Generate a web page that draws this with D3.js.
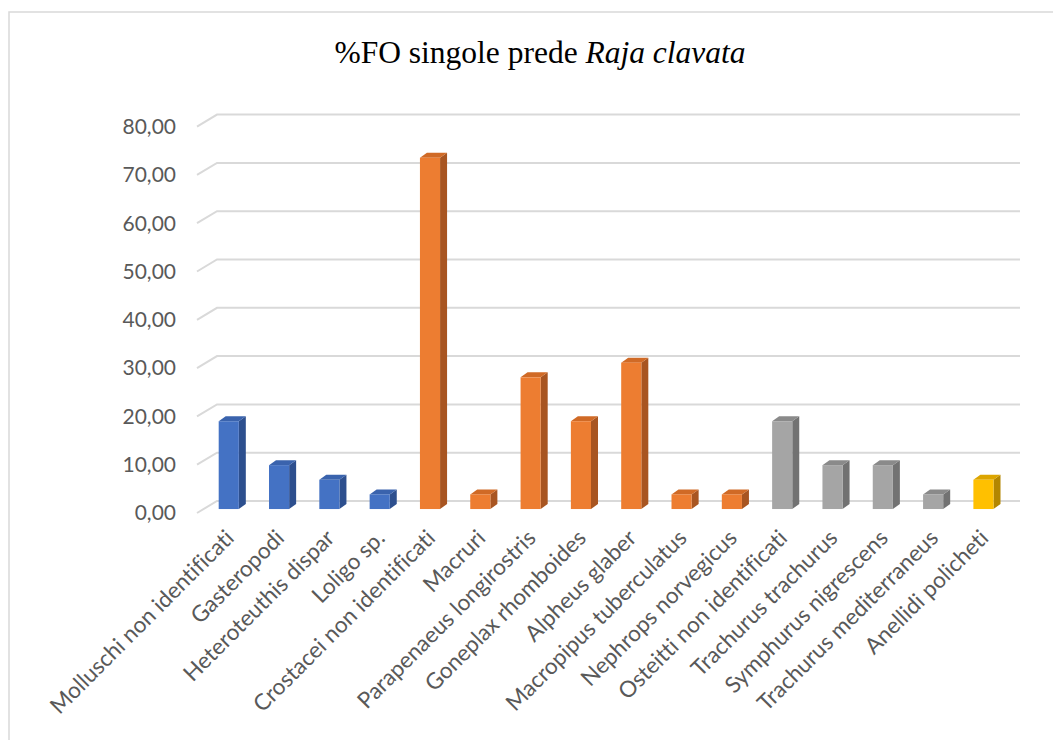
<!DOCTYPE html>
<html>
<head>
<meta charset="utf-8">
<script src="https://cdn.jsdelivr.net/npm/d3@7"></script>
<style>
  html, body { margin: 0; padding: 0; background: #ffffff; }
  svg { display: block; }
  text { font-variant-ligatures: none; font-feature-settings: "liga" 0; }
</style>
</head>
<body>
<svg id="chart" width="1053" height="740"></svg>
<script>
// Prey categories and their frequency of occurrence (%FO)
const categories = [
  "Molluschi non identificati", "Gasteropodi", "Heteroteuthis dispar", "Loligo sp.",
  "Crostacei non identificati", "Macruri", "Parapenaeus longirostris", "Goneplax rhomboides",
  "Alpheus glaber", "Macropipus tuberculatus", "Nephrops norvegicus", "Osteitti non identificati",
  "Trachurus trachurus", "Symphurus nigrescens", "Trachurus mediterraneus", "Anellidi policheti"
];
const values = [
  18.18, 9.09, 6.06, 3.03,
  72.73, 3.03, 27.27, 18.18,
  30.30, 3.03, 3.03, 18.18,
  9.09, 9.09, 3.03, 6.06
];
// Taxonomic group of each prey: molluscs, crustaceans, bony fish, annelids
const groups = [
  "Molluschi", "Molluschi", "Molluschi", "Molluschi",
  "Crostacei", "Crostacei", "Crostacei", "Crostacei",
  "Crostacei", "Crostacei", "Crostacei", "Osteitti",
  "Osteitti", "Osteitti", "Osteitti", "Anellidi"
];
const yTicks = [0, 10, 20, 30, 40, 50, 60, 70, 80];

const palette = {
  Molluschi: { front: "#4472C4", side: "#2D4F8E", top: "#3A63AD" },
  Crostacei: { front: "#ED7D31", side: "#A85521", top: "#D06A26" },
  Osteitti:  { front: "#A5A5A5", side: "#727272", top: "#8A8A8A" },
  Anellidi:  { front: "#FFC000", side: "#B38600", top: "#DCA500" }
};

const svg = d3.select("#chart");

// chart frame
svg.append("rect")
  .attr("x", 9).attr("y", 12)
  .attr("width", 1100).attr("height", 800)
  .attr("fill", "#ffffff")
  .attr("stroke", "#d9d9d9").attr("stroke-width", 1.5);

// 3D projection: floor depth runs up and to the right
const depthX = 20, depthY = 12;      // wall offset (front edge -> back wall)
const barShift = 0.33;               // depth position of the bar front faces
const barDX = 7, barDY = 5;          // bar thickness in depth

const x = d3.scaleBand().domain(categories).range([197, 1002]);
const y = d3.scaleLinear().domain([0, 80]).range([513, 513 - 80 * 4.83]);

// gridlines: diagonal on the side wall, then across the back wall
const grid = svg.append("g").attr("fill", "none")
  .attr("stroke", "#d9d9d9").attr("stroke-width", 2);
yTicks.forEach(t => {
  const yf = y(t);
  grid.append("path")
    .attr("d", `M${x.range()[0]},${yf} L${x.range()[0] + depthX},${yf - depthY} L1020,${yf - depthY}`);
});

// y-axis labels
svg.append("g").selectAll("text")
  .data(yTicks).join("text")
  .attr("x", 176)
  .attr("y", d => y(d))
  .attr("dy", "0.35em")
  .attr("text-anchor", "end")
  .attr("font-family", "Lato, 'Open Sans', sans-serif")
  .attr("font-size", 21)
  .attr("fill", "#595959")
  .text(d => d3.format(".2f")(d).replace(".", ","));

// bars drawn as front, side and top faces
const barW = x.bandwidth() * 0.4;
const offX = barShift * depthX, offY = barShift * depthY;
const bars = svg.append("g").selectAll("g")
  .data(categories.map((c, i) => ({ c, v: values[i], g: groups[i] })))
  .join("g");

bars.each(function(d) {
  const g = d3.select(this);
  const cx = x(d.c) + x.bandwidth() / 2 + offX;
  const x0 = cx - barW / 2, x1 = cx + barW / 2;
  const yb = y(0) - offY, yt = y(d.v) - offY;
  const col = palette[d.g];
  // side face
  g.append("path")
    .attr("d", `M${x1},${yb} L${x1 + barDX},${yb - barDY} L${x1 + barDX},${yt - barDY} L${x1},${yt} Z`)
    .attr("fill", col.side);
  // top face
  g.append("path")
    .attr("d", `M${x0},${yt} L${x0 + barDX},${yt - barDY} L${x1 + barDX},${yt - barDY} L${x1},${yt} Z`)
    .attr("fill", col.top);
  // front face
  g.append("rect")
    .attr("x", x0).attr("y", yt)
    .attr("width", barW).attr("height", yb - yt)
    .attr("fill", col.front);
});

// category labels, rotated 45 degrees
svg.append("g").selectAll("text")
  .data(categories).join("text")
  .attr("transform", d => `translate(${x(d) + x.bandwidth() / 2 + offX - 5},${528}) rotate(-45)`)
  .attr("dy", "0.72em")
  .attr("text-anchor", "end")
  .attr("font-family", "Lato, 'Open Sans', sans-serif")
  .attr("font-size", 22.5)
  .attr("fill", "#595959")
  .text(d => d);

// title
const title = svg.append("text")
  .attr("x", 540).attr("y", 63)
  .attr("text-anchor", "middle")
  .attr("font-family", "'Liberation Serif', 'Times New Roman', serif")
  .attr("font-size", 31.5)
  .attr("fill", "#000000");
title.append("tspan").text("%FO singole prede ");
title.append("tspan").attr("font-style", "italic").text("Raja clavata");
</script>
</body>
</html>
